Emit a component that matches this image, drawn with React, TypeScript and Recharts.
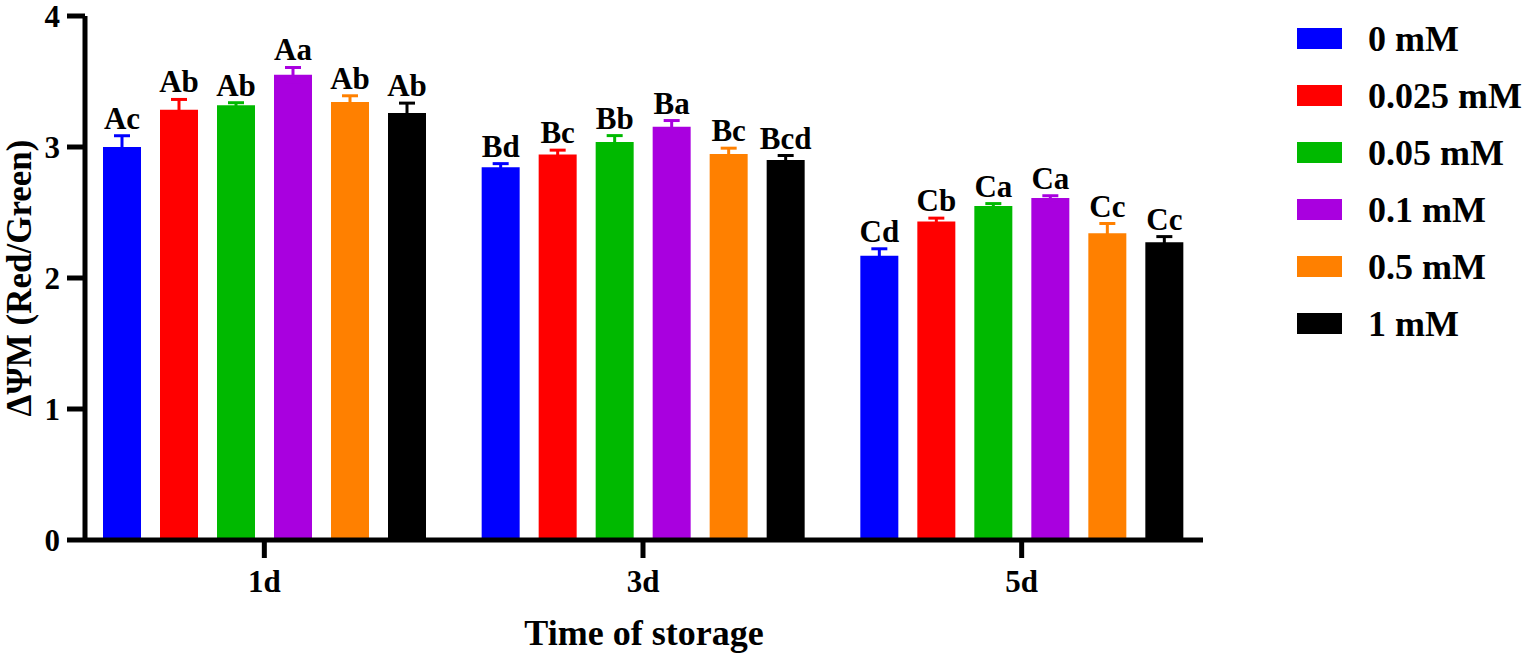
import { BarChart, Bar, XAxis, YAxis, ErrorBar, LabelList, Label } from "recharts";

const FONT = '"Liberation Serif", "Times New Roman", serif';

const days = ["1d", "3d", "5d"];
const concentrations = ["0 mM", "0.025 mM", "0.05 mM", "0.1 mM", "0.5 mM", "1 mM"];
const colors = ["#0000ff", "#ff0000", "#00b900", "#a900df", "#ff8000", "#000000"];

// mean ΔΨM per concentration, for 1d / 3d / 5d
const mean0 = [3.0, 2.845, 2.17];
const mean0025 = [3.285, 2.943, 2.432];
const mean005 = [3.318, 3.039, 2.55];
const mean01 = [3.552, 3.154, 2.61];
const mean05 = [3.343, 2.946, 2.341];
const mean1 = [3.26, 2.9, 2.273];

// error bar (upper) sizes
const err0 = [0.086, 0.028, 0.053];
const err0025 = [0.078, 0.033, 0.025];
const err005 = [0.02, 0.048, 0.018];
const err01 = [0.055, 0.048, 0.018];
const err05 = [0.048, 0.045, 0.075];
const err1 = [0.075, 0.035, 0.043];

// significance letters
const letters0 = ["Ac", "Bd", "Cd"];
const letters0025 = ["Ab", "Bc", "Cb"];
const letters005 = ["Ab", "Bb", "Ca"];
const letters01 = ["Aa", "Ba", "Ca"];
const letters05 = ["Ab", "Bc", "Cc"];
const letters1 = ["Ab", "Bcd", "Cc"];

const yTicks = [0, 1, 2, 3, 4];

const series = [
  { mean: mean0, err: err0, letters: letters0 },
  { mean: mean0025, err: err0025, letters: letters0025 },
  { mean: mean005, err: err005, letters: letters005 },
  { mean: mean01, err: err01, letters: letters01 },
  { mean: mean05, err: err05, letters: letters05 },
  { mean: mean1, err: err1, letters: letters1 },
];

const data = days.map((day, i) => {
  const row: Record<string, string | number> = { day };
  series.forEach((s, k) => {
    row[`v${k}`] = s.mean[i];
    row[`e${k}`] = s.err[i];
  });
  return row;
});

const makeLetter = (k: number) => (props: any) => {
  const vb = props.viewBox || {};
  const x = props.x ?? vb.x;
  const y = props.y ?? vb.y;
  const width = props.width ?? vb.width;
  const height = Math.abs(props.height ?? vb.height);
  const index = props.index;
  const value = series[k].mean[index];
  const perUnit = height / value;
  const top = y - series[k].err[index] * perUnit;
  return (
    <text
      x={x + width / 2}
      y={top - 7}
      textAnchor="middle"
      fontSize={31}
      fontWeight="bold"
      fontFamily={FONT}
      fill="#000"
    >
      {series[k].letters[index]}
    </text>
  );
};

const YTitle = (props: any) => {
  const { viewBox } = props;
  const cy = viewBox.y + viewBox.height / 2;
  return (
    <text
      x={31}
      y={cy}
      transform={`rotate(-90, 31, ${cy})`}
      textAnchor="middle"
      fontSize={35}
      fontWeight="bold"
      fontFamily={FONT}
      fill="#000"
    >
      ΔΨM (Red/Green)
    </text>
  );
};

const tickStyle = { fontSize: 31, fontWeight: "bold", fontFamily: FONT, fill: "#000" };

export default function App() {
  return (
    <div style={{ position: "absolute", left: 0, top: 0, width: 1523, height: 654, background: "#fff" }}>
      <BarChart
        width={1523}
        height={654}
        data={data}
        margin={{ top: 16, right: 320, bottom: 0, left: 0 }}
        barSize={38}
        barGap={19}
      >
        <XAxis
          dataKey="day"
          height={114}
          padding={{ left: -10, right: -8 }}
          tickSize={18}
          tickMargin={12}
          tick={tickStyle}
          axisLine={{ stroke: "#000", strokeWidth: 5 }}
          tickLine={{ stroke: "#000", strokeWidth: 5 }}
        >
          <Label
            value="Time of storage"
            position="insideBottom"
            offset={9}
            style={{ fontSize: 36, fontWeight: "bold", fontFamily: FONT, fill: "#000" }}
          />
        </XAxis>
        <YAxis
          width={85}
          domain={[0, 4]}
          ticks={yTicks}
          interval={0}
          tickSize={18}
          tickMargin={7}
          tick={tickStyle}
          axisLine={{ stroke: "#000", strokeWidth: 5 }}
          tickLine={{ stroke: "#000", strokeWidth: 5 }}
        >
          <Label content={YTitle} />
        </YAxis>
        {series.map((s, k) => (
          <Bar key={k} dataKey={`v${k}`} fill={colors[k]} isAnimationActive={false}>
            <ErrorBar dataKey={`e${k}`} width={8} strokeWidth={3} stroke={colors[k]} isAnimationActive={false} />
            <LabelList dataKey={`v${k}`} content={makeLetter(k)} />
          </Bar>
        ))}
      </BarChart>
      <svg width={260} height={360} style={{ position: "absolute", left: 1270, top: 0 }}>
        {concentrations.map((c, k) => (
          <g key={c}>
            <rect x={27} y={28 + k * 57} width={45} height={21} fill={colors[k]} />
            <text
              x={98}
              y={51 + k * 57}
              fontSize={36}
              fontWeight="bold"
              fontFamily={FONT}
              fill="#000"
            >
              {c}
            </text>
          </g>
        ))}
      </svg>
    </div>
  );
}
